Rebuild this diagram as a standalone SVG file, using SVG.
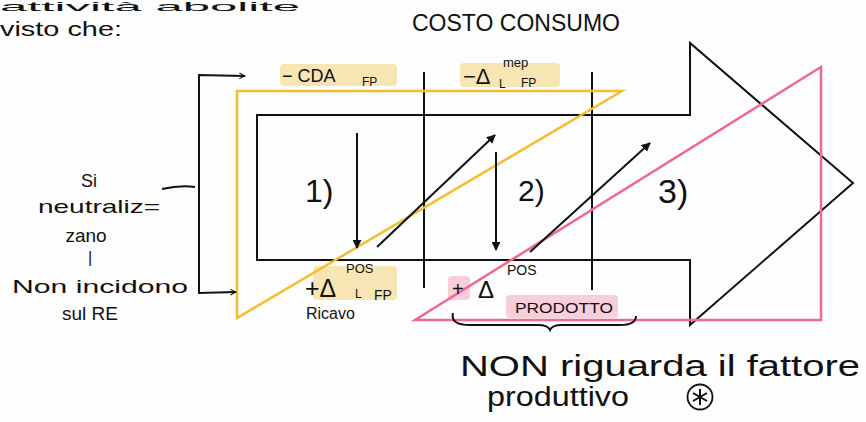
<svg xmlns="http://www.w3.org/2000/svg" width="866" height="422" viewBox="0 0 866 422">
<defs>
<marker id="ah" viewBox="0 0 10 10" refX="9" refY="5" markerWidth="9" markerHeight="9" markerUnits="userSpaceOnUse" orient="auto">
<path d="M0,0 L10,5 L0,10 Z" fill="#111"/>
</marker>
<marker id="ah2" viewBox="0 0 10 10" refX="9" refY="5" markerWidth="7" markerHeight="7" markerUnits="userSpaceOnUse" orient="auto-start-reverse">
<path d="M1,1 L9,5 L1,9" fill="none" stroke="#111" stroke-width="1.5"/>
</marker>
<style>
text{font-family:"Liberation Sans","DejaVu Sans",sans-serif;fill:#111;}
.ln{fill:none;stroke:#111;stroke-width:2;stroke-linejoin:miter;}
.yel{fill:none;stroke:#F4BE2E;stroke-width:2.5;}
.pnk{fill:none;stroke:#EE6A92;stroke-width:2.5;}
.hy{fill:#F6E2A6;opacity:0.85;}
.hp{fill:#F8C6D6;opacity:0.85;}
</style>
</defs>
<rect width="866" height="422" fill="#fdfdfd"/>

<g id="header">
<text x="0" y="11" font-size="13" textLength="300" lengthAdjust="spacingAndGlyphs">attività   abolite</text>
<text x="0" y="36" font-size="21" textLength="122" lengthAdjust="spacingAndGlyphs">visto che:</text>
<text x="412" y="31" font-size="24" textLength="208" lengthAdjust="spacingAndGlyphs">COSTO CONSUMO</text>
</g>

<g id="highlights">
<rect class="hy" x="280" y="64" width="117" height="22" rx="4"/>
<rect class="hy" x="460" y="63" width="100" height="24" rx="4"/>
<rect class="hy" x="313" y="266" width="84" height="34" rx="4"/>
<rect class="hp" x="448" y="276" width="22" height="24" rx="4"/>
<rect class="hp" x="506" y="295" width="112" height="23" rx="4"/>
</g>

<g id="arrow-shape">
<path class="ln" d="M257,115 L690,115 L690,43 L853,183 L690,325 L690,260 L257,260 Z"/>
<line class="ln" x1="424" y1="72" x2="424" y2="288"/>
<line class="ln" x1="592" y1="72" x2="592" y2="290"/>
</g>

<g id="yellow-triangle">
<polygon class="yel" points="237,91 622,91 237,318"/>
</g>
<g id="pink-triangle">
<polygon class="pnk" points="415,320 821,320 821,67"/>
</g>

<g id="box1">
<text x="305" y="202" font-size="32">1)</text>
</g>
<g id="box2">
<text x="518" y="201" font-size="30">2)</text>
</g>
<g id="box3">
<text x="658" y="203" font-size="34">3)</text>
</g>

<g id="connectors">
<line class="ln" x1="357" y1="133" x2="357" y2="248" marker-end="url(#ah)"/>
<line class="ln" x1="377" y1="247" x2="495" y2="135" marker-end="url(#ah)"/>
<line class="ln" x1="496" y1="152" x2="496" y2="250" marker-end="url(#ah)"/>
<line class="ln" x1="530" y1="252" x2="650" y2="143" marker-end="url(#ah)"/>
<path class="ln" d="M245,76 L199,75 L199,293 L236,292" marker-start="url(#ah2)" marker-end="url(#ah2)"/>
<path class="ln" d="M162,189 Q180,185 195,187"/>
<path class="ln" stroke-width="1.6" d="M453,313 Q450,325 470,325 L538,325 Q548,325 550,330 Q552,325 562,325 L620,325 Q636,325 636,316"/>
</g>

<g id="label-cda">
<text x="282" y="82" font-size="18">− CDA</text>
<text x="362" y="86" font-size="12">FP</text>
</g>
<g id="label-delta-mep">
<text x="463" y="84" font-size="22">−Δ</text>
<text x="499" y="88" font-size="12">L</text>
<text x="503" y="67" font-size="13">mep</text>
<text x="521" y="87" font-size="12">FP</text>
</g>
<g id="label-delta-pos-fp">
<text x="305" y="297" font-size="25">+Δ</text>
<text x="346" y="273" font-size="13">POS</text>
<text x="355" y="298" font-size="12">L</text>
<text x="374" y="300" font-size="14">FP</text>
<text x="306" y="319" font-size="16">Ricavo</text>
</g>
<g id="label-delta-prodotto">
<text x="452" y="296" font-size="20">+</text>
<text x="478" y="298" font-size="24">Δ</text>
<text x="507" y="275" font-size="14">POS</text>
<text x="515" y="313" font-size="15" textLength="98" lengthAdjust="spacingAndGlyphs">PRODOTTO</text>
</g>

<g id="left-note" text-anchor="middle">
<text x="89" y="187" font-size="18">Si</text>
<text x="99" y="213" font-size="19" textLength="122" lengthAdjust="spacingAndGlyphs">neutraliz=</text>
<text x="86" y="242" font-size="19">zano</text>
<text x="90" y="263" font-size="16">|</text>
<text x="100" y="293" font-size="19" textLength="176" lengthAdjust="spacingAndGlyphs">Non incidono</text>
<text x="90" y="320" font-size="19">sul RE</text>
</g>

<g id="bottom-note">
<text x="460" y="376" font-size="30" textLength="400" lengthAdjust="spacingAndGlyphs">NON riguarda il fattore</text>
<text x="487" y="406" font-size="27" textLength="142" lengthAdjust="spacingAndGlyphs">produttivo</text>
<circle cx="700" cy="397" r="12.5" fill="none" stroke="#111" stroke-width="1.8"/>
<path class="ln" stroke-width="1.6" d="M700,389 L700,405 M693,393 L707,401 M707,393 L693,401"/>
</g>
</svg>
